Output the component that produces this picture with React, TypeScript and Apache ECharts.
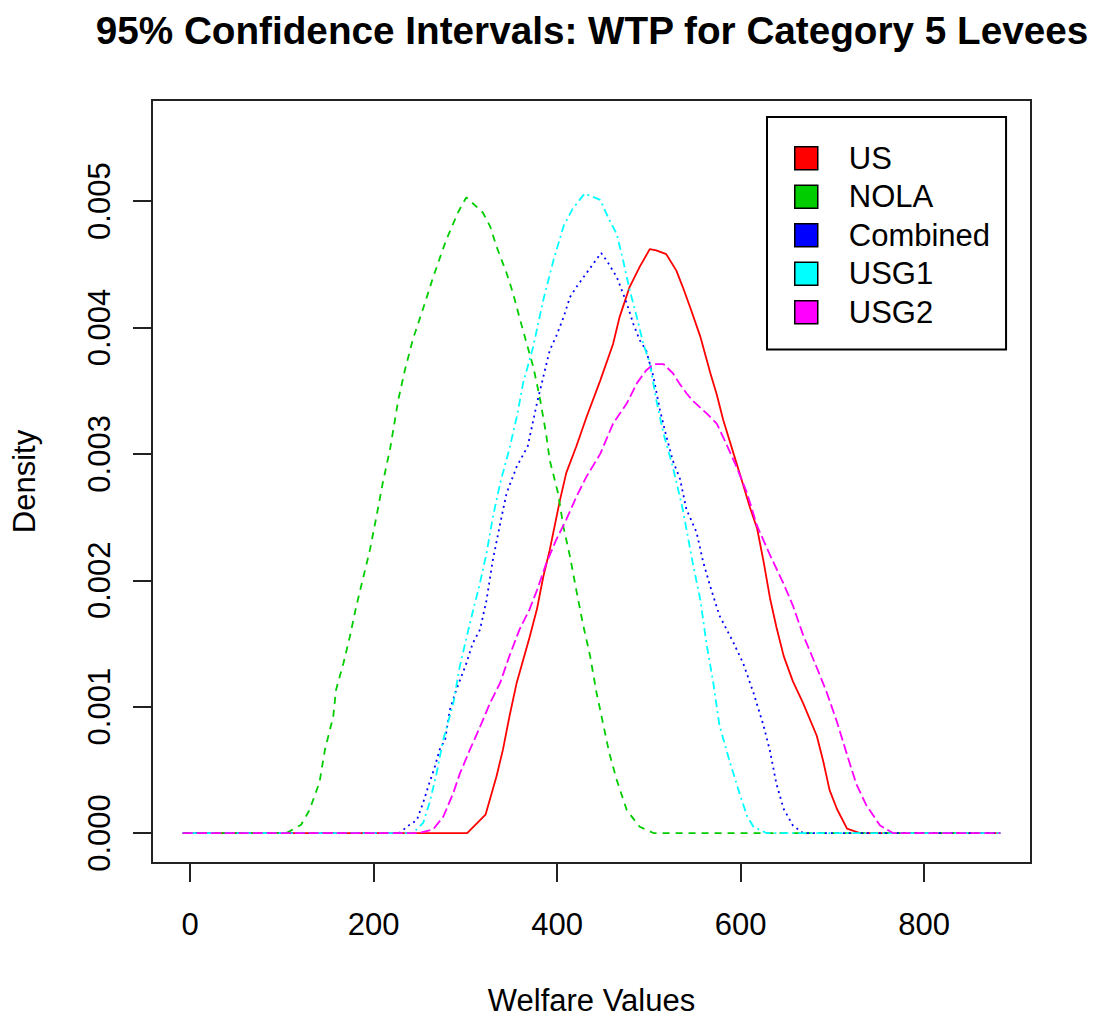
import React, { useEffect, useRef } from "react";
import * as echarts from "echarts";

const TITLE = "95% Confidence Intervals: WTP for Category 5 Levees";
const X_NAME = "Welfare Values";
const Y_NAME = "Density";
const X_TICKS = [0, 200, 400, 600, 800];
const Y_TICKS = [0, 0.001, 0.002, 0.003, 0.004, 0.005];
const SERIES_NAMES = ["US", "NOLA", "Combined", "USG1", "USG2"];
const COLORS = ["#FF0000", "#00CD00", "#0000FF", "#00FFFF", "#FF00FF"];

const US: number[][] = [
  [-8, 0], [302, 0], [322, 0.000145], [334, 0.00045], [341, 0.00066], [348, 0.00092], [356, 0.00119],
  [363, 0.00137], [370, 0.00155], [378, 0.00177], [385, 0.00203], [392, 0.00224], [403, 0.00263],
  [410, 0.00285], [421, 0.00306], [432, 0.00329], [447, 0.00358], [461, 0.00387], [468, 0.00408],
  [479, 0.00432], [490, 0.00448], [501, 0.00462], [508, 0.00461], [519, 0.00458], [530, 0.00445],
  [537, 0.00432], [545, 0.00416], [556, 0.00393], [567, 0.00364], [574, 0.00347], [581, 0.00327],
  [592, 0.00301], [603, 0.00275], [610, 0.00258], [618, 0.00241], [625, 0.00215], [632, 0.00186],
  [639, 0.00163], [647, 0.0014], [657, 0.0012], [668, 0.00103], [683, 0.00077], [690, 0.00057],
  [697, 0.00034], [705, 0.00019], [716, 0.000035], [730, 0], [883, 0],
];

const NOLA: number[][] = [
  [-8, 0], [105, 0], [121, 0.000066], [130, 0.00018], [141, 0.0004], [147, 0.00066], [156, 0.00092],
  [159, 0.00113], [167, 0.00134], [174, 0.00155], [181, 0.00179], [188, 0.002], [196, 0.00224],
  [203, 0.0025], [210, 0.00277], [218, 0.00304], [227, 0.00343], [234, 0.00366], [243, 0.00391],
  [254, 0.00415], [265, 0.0044], [279, 0.00469], [292, 0.00491], [301, 0.00503], [319, 0.00491],
  [327, 0.0048], [334, 0.00464], [345, 0.00443], [352, 0.00427], [359, 0.00408], [367, 0.00387],
  [374, 0.00369], [381, 0.00345], [388, 0.00316], [392, 0.00295], [401, 0.00269], [407, 0.00242],
  [414, 0.00219], [421, 0.00192], [428, 0.00166], [436, 0.0014], [443, 0.00111], [450, 0.00087],
  [457, 0.00063], [465, 0.00042], [476, 0.00018], [490, 0.00005], [505, 0], [883, 0],
];

const COMBINED: number[][] = [
  [-8, 0], [228, 0], [240, 0.00007], [247, 0.0001], [254, 0.00024], [261, 0.0004], [267, 0.00053],
  [272, 0.00066], [278, 0.00074], [283, 0.00097], [290, 0.00113], [301, 0.00134], [308, 0.0015],
  [316, 0.00161], [323, 0.00184], [330, 0.00216], [338, 0.00245], [345, 0.00269], [356, 0.0029],
  [368, 0.00306], [378, 0.0034], [385, 0.00361], [392, 0.00382], [399, 0.00393], [407, 0.00408],
  [414, 0.00424], [421, 0.00432], [432, 0.00443], [448, 0.00459], [454, 0.00453], [465, 0.0044],
  [476, 0.00419], [483, 0.00403], [490, 0.0039], [497, 0.00382], [505, 0.00361], [512, 0.00335],
  [519, 0.00314], [526, 0.00295], [534, 0.0028], [541, 0.00256], [552, 0.00238], [559, 0.00215],
  [567, 0.00195], [577, 0.00172], [592, 0.00151], [603, 0.00134], [614, 0.00111], [625, 0.00085],
  [632, 0.00065], [639, 0.00039], [647, 0.00019], [657, 0.00006], [668, 0], [883, 0],
];

const USG1: number[][] = [
  [-8, 0], [243, 0], [254, 0.00008], [261, 0.00024], [268, 0.00045], [276, 0.00074], [287, 0.00103],
  [294, 0.00132], [305, 0.00166], [316, 0.00198], [323, 0.00221], [330, 0.0025], [338, 0.00277],
  [348, 0.00304], [356, 0.00329], [363, 0.00356], [374, 0.00385], [385, 0.00422], [396, 0.00453],
  [407, 0.0048], [417, 0.00494], [430, 0.00506], [447, 0.00501], [457, 0.00485], [465, 0.00474],
  [472, 0.00453], [479, 0.0043], [487, 0.00408], [494, 0.00387], [501, 0.00372], [508, 0.00343],
  [516, 0.00316], [526, 0.0029], [537, 0.00256], [548, 0.00213], [556, 0.00185], [563, 0.00149],
  [570, 0.0012], [577, 0.00085], [588, 0.00057], [599, 0.00031], [607, 0.000135], [614, 0.00005],
  [628, 0], [883, 0],
];

const USG2: number[][] = [
  [-8, 0], [250, 0], [265, 0.00003], [276, 0.00013], [287, 0.00032], [294, 0.00047], [305, 0.00066],
  [316, 0.00084], [327, 0.00103], [338, 0.00119], [348, 0.0014], [359, 0.00161], [370, 0.00177],
  [378, 0.00192], [388, 0.00213], [399, 0.00232], [410, 0.00248], [421, 0.00266], [432, 0.00282],
  [447, 0.003], [461, 0.00324], [476, 0.0034], [487, 0.00356], [497, 0.00366], [505, 0.00371],
  [516, 0.00371], [526, 0.00364], [534, 0.00355], [541, 0.00348], [548, 0.00342], [563, 0.00332],
  [574, 0.00324], [585, 0.00307], [596, 0.00289], [607, 0.00269], [618, 0.00243], [632, 0.0022],
  [647, 0.00197], [657, 0.0018], [668, 0.00157], [683, 0.00131], [694, 0.00111], [705, 0.00088],
  [716, 0.00062], [726, 0.00039], [737, 0.00022], [752, 0.00006], [766, 0], [883, 0],
];

const SERIES_DATA = [US, NOLA, COMBINED, USG1, USG2];
const DASHES: any[] = ["solid", [7, 6], [2, 4], [2, 4, 8, 4], [10, 4]];

const FONT = "'Liberation Sans', Arial, sans-serif";

export default function App() {
  const ref = useRef<HTMLDivElement>(null);
  useEffect(() => {
    if (!ref.current) return;
    const chart = echarts.init(ref.current, null, { renderer: "svg" });
    chart.setOption({
      animation: false,
      backgroundColor: "#FFFFFF",
      textStyle: { fontFamily: FONT },
      title: {
        text: TITLE,
        left: 587,
        textAlign: "center",
        top: 6,
        textStyle: { fontFamily: FONT, fontSize: 38.7, fontWeight: "bold", color: "#000" },
      },
      legend: {
        data: SERIES_NAMES,
        orient: "vertical",
        left: 767,
        top: 117,
        padding: [22, 16, 18, 27],
        borderColor: "#000",
        borderWidth: 2,
        backgroundColor: "#FFFFFF",
        icon: "rect",
        itemWidth: 23,
        itemHeight: 23,
        itemGap: 0,
        itemStyle: { borderColor: "#000", borderWidth: 1.5, borderType: "solid" },
        textStyle: { fontFamily: FONT, fontSize: 31, color: "#000", lineHeight: 38.5, padding: [0, 0, 0, 26] },
        selectedMode: false,
      },
      grid: {
        left: 152,
        top: 100,
        right: 66,
        bottom: 158,
        show: true,
        borderColor: "#222",
        borderWidth: 2,
        backgroundColor: "transparent",
      },
      xAxis: {
        type: "value",
        min: -41.5,
        max: 916.5,
        name: X_NAME,
        nameLocation: "middle",
        nameGap: 122,
        nameTextStyle: { fontFamily: FONT, fontSize: 31, color: "#000" },
        axisLine: { show: false, onZero: false },
        splitLine: { show: false },
        axisTick: { show: true, inside: false, length: 19, customValues: X_TICKS, lineStyle: { color: "#222", width: 2 } },
        axisLabel: {
          customValues: X_TICKS,
          fontFamily: FONT,
          fontSize: 31,
          color: "#000",
          margin: 46,
          formatter: (v: number) => String(v),
        },
      },
      yAxis: {
        type: "value",
        min: -0.000237,
        max: 0.0058,
        name: Y_NAME,
        nameLocation: "middle",
        nameGap: 112,
        nameRotate: 90,
        nameTextStyle: { fontFamily: FONT, fontSize: 31, color: "#000" },
        axisLine: { show: false, onZero: false },
        splitLine: { show: false },
        axisTick: { show: true, inside: false, length: 19, customValues: Y_TICKS, lineStyle: { color: "#222", width: 2 } },
        axisLabel: {
          customValues: Y_TICKS,
          rotate: 90,
          fontFamily: FONT,
          fontSize: 31,
          color: "#000",
          margin: 37,
          formatter: (v: number) => v.toFixed(3),
        },
      },
      series: SERIES_NAMES.map((name, i) => ({
        name,
        type: "line",
        data: SERIES_DATA[i],
        showSymbol: false,
        symbol: "none",
        color: COLORS[i],
        itemStyle: { color: COLORS[i] },
        lineStyle: { color: COLORS[i], width: 1.8, type: DASHES[i] },
        z: 2 + i,
      })),
    });
    return () => chart.dispose();
  }, []);
  return (
    <div
      ref={ref}
      style={{ position: "fixed", left: 0, top: 0, width: 1097, height: 1021, background: "#fff" }}
    />
  );
}
